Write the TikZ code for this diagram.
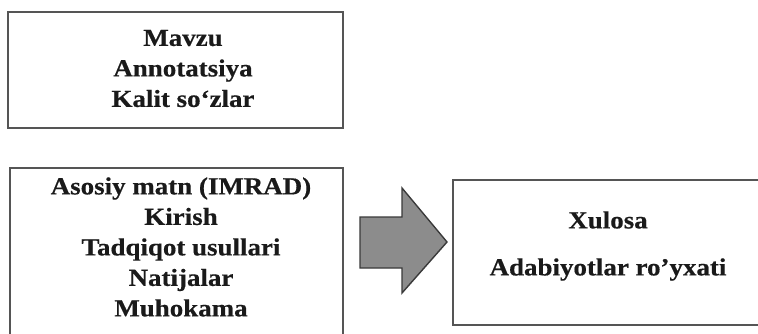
\documentclass[tikz,border=0pt]{standalone}
\usepackage{fontspec}
\setmainfont{Liberation Serif}
\newfontfamily\boxfont[FakeStretch=1.1,FakeBold=0.5]{Liberation Serif}
\definecolor{inkc}{HTML}{1A1A1A}
\definecolor{framec}{HTML}{555555}
\definecolor{arrowfill}{HTML}{8C8C8C}
\definecolor{arrowline}{HTML}{3A3A3A}
\begin{document}
\begin{tikzpicture}[x=1pt,y=-1pt,
  frame/.style={draw=framec,line width=1.6pt,rectangle,inner sep=0pt},
  txt/.style={text=inkc,align=center,inner sep=0pt,font=\boxfont\bfseries\fontsize{24.5}{30.5}\selectfont},
  txtwide/.style={text=inkc,align=center,inner sep=0pt,font=\boxfont\bfseries\fontsize{24.5}{47}\selectfont}]
\useasboundingbox[fill=white] (0,0) rectangle (758,334);
% boxes
\node[frame,minimum width=335pt,minimum height=116pt] (top) at (175.5,70) {};
\node[frame,minimum width=333pt,minimum height=172pt] (main) at (176.5,254) {};
\node[frame,minimum width=308pt,minimum height=145pt] (end) at (607,252.5) {};
% texts
\node[txt] (toptext) at (183,68.5) {Mavzu\\Annotatsiya\\Kalit so‘zlar};
\node[txt] (maintext) at (181,247) {Asosiy matn (IMRAD)\\Kirish\\Tadqiqot usullari\\Natijalar\\Muhokama};
\node[txtwide] (endtext) at (608,246) {Xulosa\\Adabiyotlar ro’yxati};
% block arrow
\draw[fill=arrowfill,draw=arrowline,line width=1.4pt,line join=miter]
  (360,217) -- (402,217) -- (402,188) -- (447,242) -- (402,293) -- (402,268) -- (360,268) -- cycle;
\end{tikzpicture}
\end{document}
